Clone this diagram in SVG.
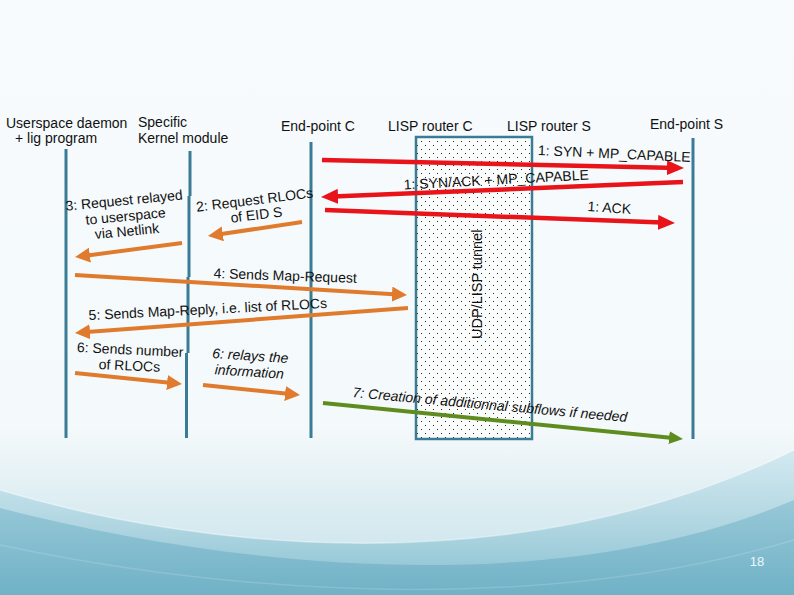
<svg xmlns="http://www.w3.org/2000/svg" width="794" height="595" viewBox="0 0 794 595">
<style>
.t{font-family:"Liberation Sans",Arial,sans-serif;font-size:14px;fill:#111}
.life{stroke:#3a7b96;stroke-width:3;fill:none}
.red{stroke:#e8141a;stroke-width:4.5;fill:none;marker-end:url(#mRed)}
.or{stroke:#e07b2e;stroke-width:4;fill:none;marker-end:url(#mOr)}
.gr{stroke:#5f8c1e;stroke-width:4;fill:none;marker-end:url(#mGr)}
</style>
<defs>
<linearGradient id="bg" x1="0" y1="0" x2="0" y2="1">
<stop offset="0" stop-color="#f7fbfd"/>
<stop offset="0.72" stop-color="#f4f9fb"/>
<stop offset="0.85" stop-color="#dcedf2"/>
<stop offset="1" stop-color="#c5e2ea"/>
</linearGradient>
<linearGradient id="sw1" x1="0" y1="0" x2="0" y2="1">
<stop offset="0" stop-color="#d3e9f0"/>
<stop offset="0.5" stop-color="#b2d7e2"/>
<stop offset="1" stop-color="#86bfd0"/>
</linearGradient>
<linearGradient id="sw2" x1="0" y1="0" x2="0" y2="1">
<stop offset="0" stop-color="#8ec3d3"/>
<stop offset="1" stop-color="#6aaec4"/>
</linearGradient>
<pattern id="dots" width="8" height="8" patternUnits="userSpaceOnUse">
<rect width="8" height="8" fill="#fbfcfc"/>
<rect x="1" y="1" width="1" height="1" fill="#222"/>
<rect x="5" y="5" width="1" height="1" fill="#222"/>
</pattern>
<marker id="mRed" markerUnits="userSpaceOnUse" markerWidth="17" markerHeight="15" refX="11" refY="7.5" orient="auto">
<path d="M0,0 L17,7.5 L0,15 Z" fill="#e8141a"/>
</marker>
<marker id="mOr" markerUnits="userSpaceOnUse" markerWidth="15" markerHeight="15" refX="10" refY="7.5" orient="auto">
<path d="M0,0 L15,7.5 L0,15 Z" fill="#e07b2e"/>
</marker>
<marker id="mGr" markerUnits="userSpaceOnUse" markerWidth="14" markerHeight="13" refX="9" refY="6.5" orient="auto">
<path d="M0,0 L14,6.5 L0,13 Z" fill="#5f8c1e"/>
</marker>
</defs>

<g id="background">
<rect width="794" height="595" fill="url(#bg)"/>
<path d="M0,490 C200,550 520,585 794,450 L794,595 L0,595 Z" fill="url(#sw1)"/>
<path d="M0,508 C240,570 560,600 794,500 L794,595 L0,595 Z" fill="url(#sw2)" opacity="0.8"/>
<path d="M0,490 C200,550 520,585 794,450" stroke="#ffffff" stroke-opacity="0.4" stroke-width="1.5" fill="none"/>
<path d="M0,545 C260,600 560,610 794,540" stroke="#ffffff" stroke-opacity="0.15" stroke-width="1.5" fill="none"/>
<text x="757" y="566" text-anchor="middle" style="font-family:'Liberation Sans',Arial,sans-serif;font-size:13px;fill:#eef8fb">18</text>
</g>

<g id="tunnel">
<rect x="416" y="137" width="116" height="302" fill="url(#dots)" stroke="#3a7b96" stroke-width="2.5"/>
<text class="t" transform="translate(482,339) rotate(-90)" style="font-size:14.5px">UDP/LISP tunnel</text>
</g>

<g id="userspace">
<text class="t" x="6" y="128">Userspace daemon</text>
<text class="t" x="15" y="143">+ lig program</text>
<line class="life" x1="66" y1="149" x2="66" y2="438"/>
</g>

<g id="kernel">
<text class="t" x="138" y="127">Specific</text>
<text class="t" x="138" y="143">Kernel module</text>
<path class="life" d="M190,151 V196 M189,196 V277 M188,277 V353 M186.5,353 V438"/>
</g>

<g id="endpoint-c">
<text class="t" x="281" y="131">End-point C</text>
<line class="life" x1="311" y1="142" x2="311" y2="438"/>
</g>

<g id="router-c">
<text class="t" x="388" y="131">LISP router C</text>
</g>

<g id="router-s">
<text class="t" x="507" y="131">LISP router S</text>
</g>

<g id="endpoint-s">
<text class="t" x="650" y="129">End-point S</text>
<line class="life" x1="693" y1="138" x2="693" y2="439"/>
</g>

<g id="connectors">
<line class="red" x1="322" y1="160" x2="678" y2="167.9"/>
<line class="red" x1="683" y1="182" x2="327" y2="196.8"/>
<line class="red" x1="325" y1="210" x2="669" y2="222.8"/>
<line class="or" x1="302" y1="222" x2="212.9" y2="235.3"/>
<line class="or" x1="182" y1="243" x2="80" y2="256.4"/>
<line class="or" x1="75" y1="275" x2="402" y2="294.7"/>
<line class="or" x1="408" y1="308" x2="80" y2="332.6"/>
<line class="or" x1="75" y1="373" x2="177" y2="383.5"/>
<line class="or" x1="203" y1="385" x2="295" y2="394.5"/>
<line class="gr" x1="323" y1="403" x2="678" y2="438.5"/>
</g>

<g id="labels">
<text class="t" text-anchor="middle" transform="translate(614,158.5) rotate(2.6)">1: SYN + MP_CAPABLE</text>
<text class="t" text-anchor="middle" transform="translate(496.5,184.5) rotate(-3.1)">1: SYN/ACK + MP_CAPABLE</text>
<text class="t" text-anchor="middle" transform="translate(609,212.5) rotate(4)">1: ACK</text>
<text class="t" text-anchor="middle" transform="translate(257,219.5) rotate(-7)"><tspan x="0" y="-15">2: Request RLOCs</tspan><tspan x="0" y="0">of EID S</tspan></text>
<text class="t" text-anchor="middle" transform="translate(126,221) rotate(-5.5)"><tspan x="0" y="-16">3: Request relayed</tspan><tspan x="0" y="0">to userspace</tspan><tspan x="0" y="15">via Netlink</tspan></text>
<text class="t" text-anchor="middle" transform="translate(285,280.5) rotate(2)">4: Sends Map-Request</text>
<text class="t" text-anchor="middle" transform="translate(208,314) rotate(-2.9)">5: Sends Map-Reply, i.e. list of RLOCs</text>
<text class="t" text-anchor="middle" transform="translate(130,354.5) rotate(2.7)"><tspan x="0" y="0">6: Sends number</tspan><tspan x="0" y="16">of RLOCs</tspan></text>
<text class="t" text-anchor="middle" font-style="italic" transform="translate(250,360.5) rotate(3.8)"><tspan x="0" y="0">6: relays the</tspan><tspan x="0" y="16">information</tspan></text>
<text class="t" text-anchor="middle" font-style="italic" transform="translate(489.5,409.5) rotate(5.2)">7: Creation of additionnal subflows if needed</text>
</g>
</svg>
